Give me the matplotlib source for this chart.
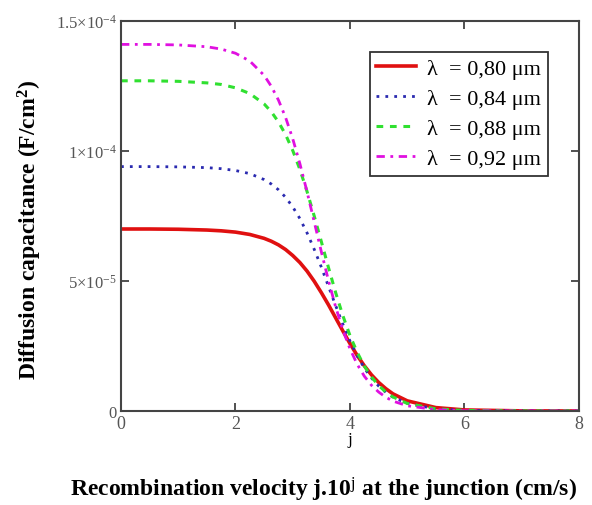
import matplotlib
matplotlib.use("Agg")
import matplotlib.pyplot as plt
import numpy as np

plt.rcParams['font.family'] = ['Liberation Serif', 'DejaVu Serif']
plt.rcParams['mathtext.fontset'] = 'custom'
plt.rcParams['mathtext.rm'] = 'Liberation Serif'
plt.rcParams['mathtext.it'] = 'Liberation Serif:italic'
plt.rcParams['mathtext.bf'] = 'Liberation Serif:bold'

# j values (log of recombination velocity)
j = [0, 0.5, 1, 1.5, 1.75, 2, 2.25, 2.5, 2.625, 2.75, 2.875, 3, 3.125, 3.25,
     3.375, 3.5, 3.625, 3.75, 3.875, 4, 4.125, 4.25, 4.375, 4.5, 4.625,
     4.75, 5, 5.5, 6, 7, 8]

# diffusion capacitance, in 1e-5 F/cm2
c_080 = [7.00, 7.00, 6.99, 6.96, 6.93, 6.88, 6.79, 6.64, 6.53, 6.39, 6.21,
         5.98, 5.71, 5.38, 4.99, 4.55, 4.08, 3.58, 3.08, 2.59, 2.14, 1.74,
         1.39, 1.10, 0.86, 0.66, 0.39, 0.13, 0.04, 0.004, 0.0]
c_084 = [9.40, 9.40, 9.39, 9.36, 9.32, 9.25, 9.13, 8.90, 8.73, 8.51, 8.22,
         7.85, 7.40, 6.85, 6.22, 5.53, 4.79, 4.05, 3.34, 2.69, 2.13, 1.65,
         1.27, 0.96, 0.72, 0.53, 0.29, 0.08, 0.02, 0.002, 0.0]
c_088 = [12.70, 12.70, 12.68, 12.62, 12.56, 12.43, 12.21, 11.81, 11.51, 11.12,
         10.63, 10.02, 9.29, 8.44, 7.50, 6.51, 5.51, 4.55, 3.67, 2.90, 2.26,
         1.73, 1.31, 0.98, 0.73, 0.54, 0.29, 0.08, 0.02, 0.002, 0.0]
c_092 = [14.10, 14.10, 14.08, 14.01, 13.92, 13.76, 13.46, 12.91, 12.49, 11.96,
         11.29, 10.47, 9.51, 8.43, 7.28, 6.12, 5.01, 4.00, 3.12, 2.39, 1.80,
         1.34, 0.99, 0.73, 0.53, 0.38, 0.20, 0.05, 0.01, 0.001, 0.0]

labels = ["λ  = 0,80 μm", "λ  = 0,84 μm", "λ  = 0,88 μm", "λ  = 0,92 μm"]

fig = plt.figure(figsize=(5.92, 5.06), dpi=100)
ax = fig.add_axes([0.2044, 0.1858, 0.7736, 0.7707])

sc = 1e-5
ax.plot(j, np.array(c_080) * sc, color='#e01010', lw=2.6, ls='-', label=labels[0])
ax.plot(j, np.array(c_084) * sc, color='#2a2ab0', lw=2.0, ls=(0, (1, 2.2)), label=labels[1])
ax.plot(j, np.array(c_088) * sc, color='#30e030', lw=2.2, ls=(0, (2.2, 2.2)), label=labels[2])
ax.plot(j, np.array(c_092) * sc, color='#e010e0', lw=2.0, ls=(0, (3, 2, 1, 2)), label=labels[3])

ax.set_xlim(0, 8)
ax.set_ylim(0, 1.5e-4)
ax.set_xticks([0, 2, 4, 6, 8])
ax.set_yticks([0, 5e-5, 1e-4, 1.5e-4])
ax.set_yticklabels(["0", r"5$\times$10$^{-5}$", r"1$\times$10$^{-4}$",
                    r"1.5$\times$10$^{-4}$"])
ax.tick_params(axis='both', direction='in', top=True, right=True, length=6,
               width=1.2, color='#333333')
ax.tick_params(axis='y', labelsize=12, labelcolor='#555555', pad=3)
ax.tick_params(axis='x', labelsize=13, labelcolor='#555555', pad=3)
for s in ax.spines.values():
    s.set_linewidth(1.5)
    s.set_color('#444444')

ax.set_xlabel("j", fontsize=12, labelpad=-1)
fig.text(0.547, 0.032, r"Recombination velocity j.10$^{\mathrm{j}}$ at the junction (cm/s)",
         ha='center', va='center', fontsize=17, fontweight='bold')
fig.text(0.05, 0.545, r"Diffusion capacitance (F/cm$^{\mathbf{2}}$)", fontsize=17,
         fontweight='bold', rotation=90, ha='center', va='center')

leg = ax.legend(loc='upper right', bbox_to_anchor=(0.932, 0.9205),
                borderaxespad=0, fontsize=16, handlelength=1.8,
                labelspacing=0.42, fancybox=False, framealpha=1,
                edgecolor='#333333', borderpad=0.3, handletextpad=0.5)
leg.get_frame().set_linewidth(1.3)

fig.savefig("out.png", dpi=100)
